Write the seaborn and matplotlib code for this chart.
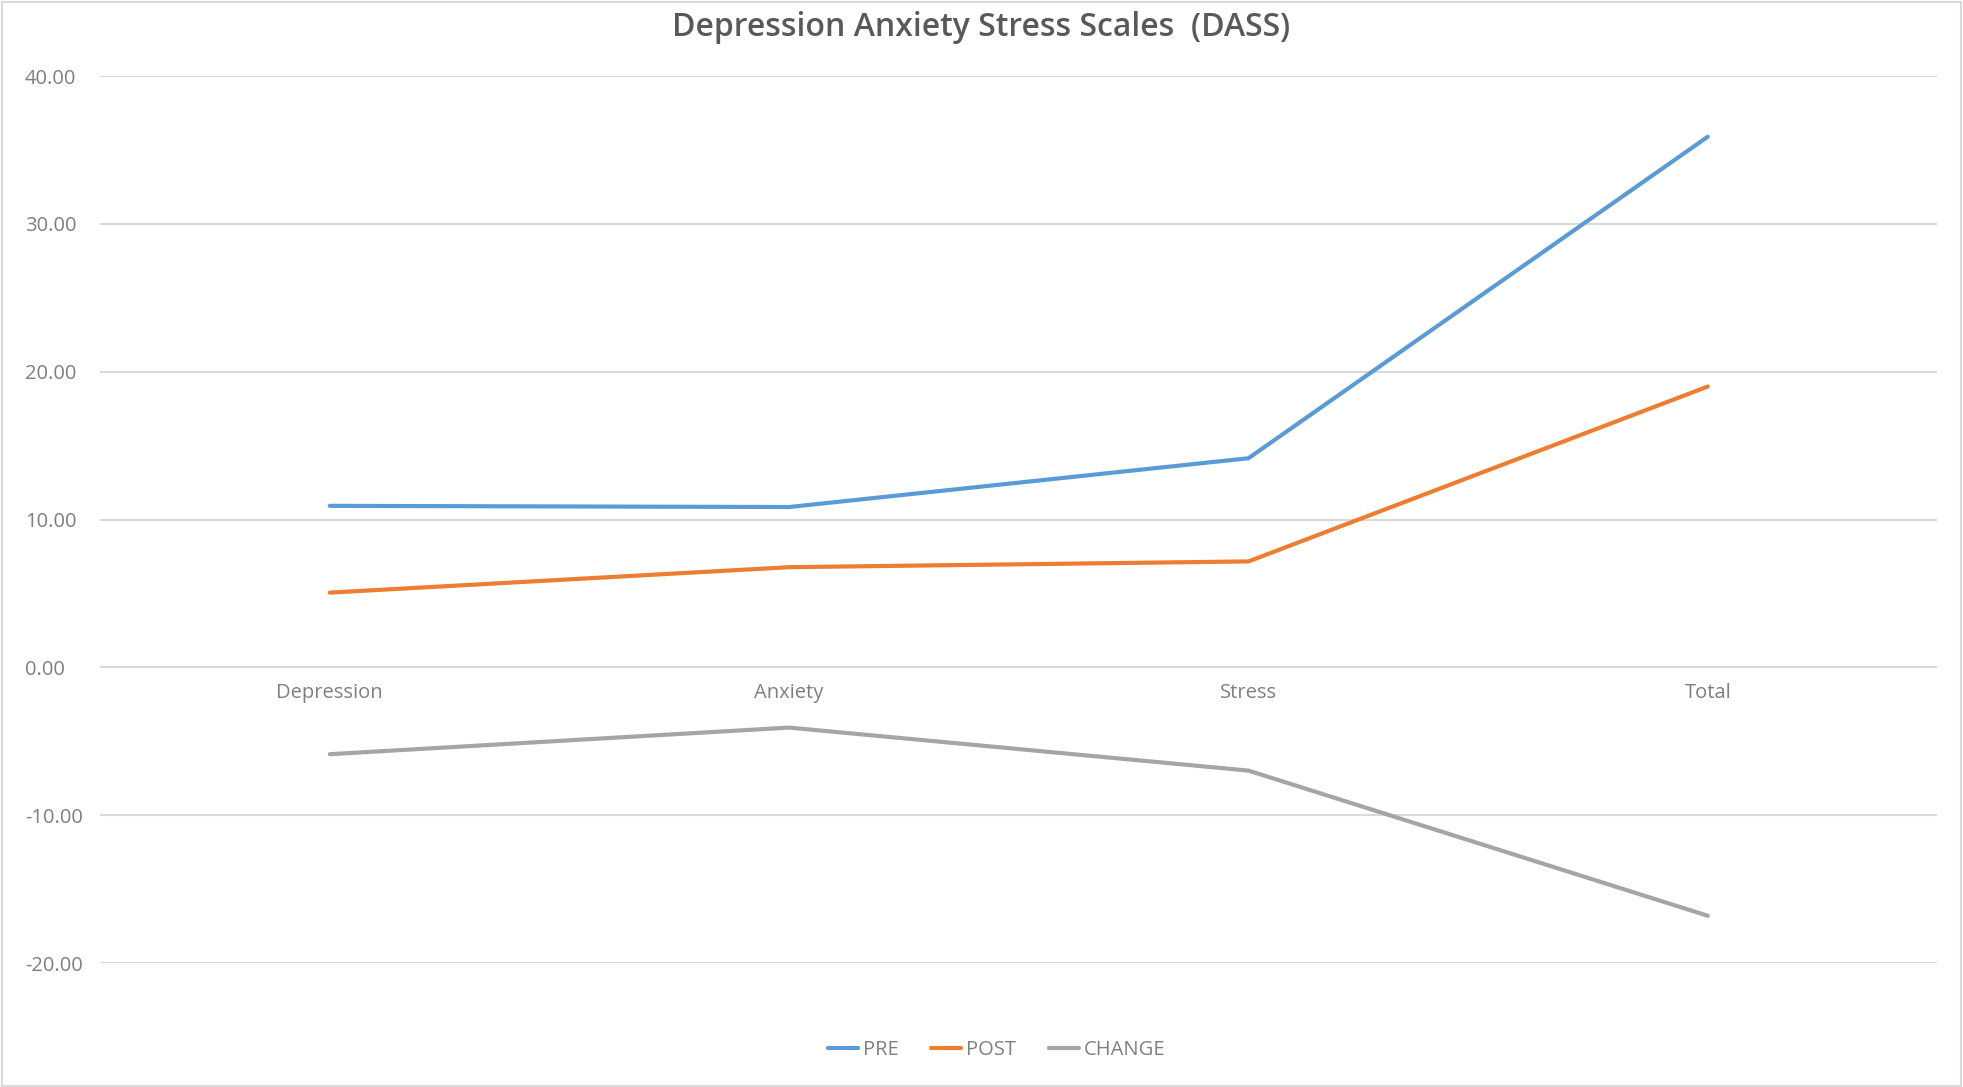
import numpy as np
import pandas as pd
import matplotlib
matplotlib.use("Agg")
import matplotlib.pyplot as plt
import seaborn as sns
from matplotlib.patches import Rectangle

# values
scales = ["Depression", "Anxiety", "Stress", "Total"]
pre = [10.93, 10.85, 14.15, 35.9]
post = [5.06, 6.78, 7.17, 19.0]
change = [-5.87, -4.07, -6.98, -16.8]
series = ["PRE", "POST", "CHANGE"]
yticks = [-20, -10, 0, 10, 20, 30, 40]

df = pd.DataFrame({
    "scale": scales * 3,
    "value": pre + post + change,
    "series": np.repeat(series, len(scales)),
})

sns.set_theme(style="white")
plt.rcParams["font.family"] = ["Open Sans", "DejaVu Sans"]

colors = {"PRE": "#5B9BD5", "POST": "#ED7D31", "CHANGE": "#A5A5A5"}
txt_grey = "#7F7F7F"

fig = plt.figure(figsize=(19.63, 10.87), dpi=100)
ax = fig.add_axes([0.051, 0.114, 0.936, 0.816])

sns.lineplot(data=df, x="scale", y="value", hue="series", palette=colors,
             sort=False, linewidth=3.0, ax=ax, legend=True)

ax.set_xlim(-0.5, len(scales) - 0.5)
ax.set_ylim(-20, 40)
ax.set_yticks(yticks)
ax.set_yticklabels([f"{v:.2f}" for v in yticks], color=txt_grey, fontsize=14.5, ha="left")
ax.tick_params(axis="y", length=0, pad=54)
ax.set_xticks([])
ax.set_xlabel("")
ax.set_ylabel("")
ax.yaxis.grid(True, color="#D9D9D9", linewidth=1.5)
ax.set_axisbelow(True)
for s in ax.spines.values():
    s.set_visible(False)

# category labels sit under the zero line, like Excel does
for i, name in enumerate(scales):
    ax.annotate(name, (i, 0), xytext=(0, -11), textcoords="offset points",
                ha="center", va="top", color=txt_grey, fontsize=14.5)

fig.suptitle("Depression Anxiety Stress Scales  (DASS)", x=0.5, y=0.99, va="top",
             fontsize=23, color="#595959", fontweight="semibold")

leg = ax.legend(loc="center", bbox_to_anchor=(0.488, -0.098), ncol=3,
                frameon=False, fontsize=14.5, handlelength=1.5, handletextpad=0.25,
                columnspacing=1.6)
for t in leg.get_texts():
    t.set_color(txt_grey)

fig.patches.append(Rectangle((0.001, 0.001), 0.998, 0.997, transform=fig.transFigure,
                             fill=False, edgecolor="#D9D9D9", linewidth=1.5))

fig.savefig("out.png", dpi=100)
